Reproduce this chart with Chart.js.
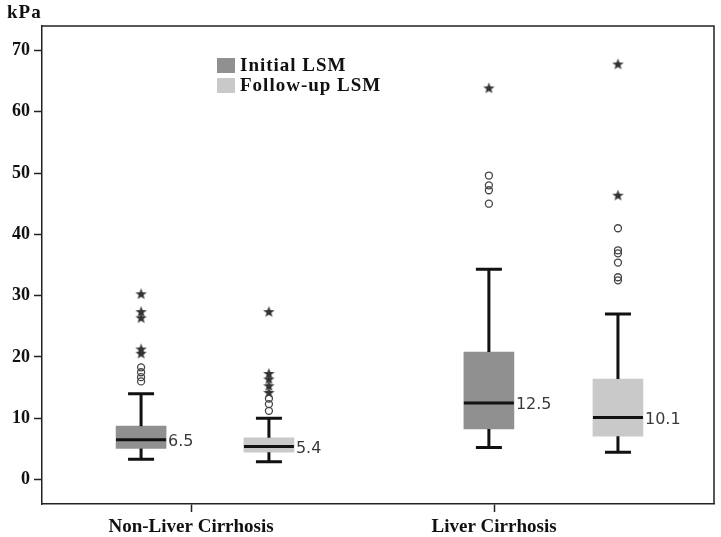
<!DOCTYPE html>
<html>
<head>
<meta charset="utf-8">
<script src="https://cdn.jsdelivr.net/npm/chart.js@4/dist/chart.umd.min.js"></script>
<style>
  html, body { margin: 0; padding: 0; background: #fff; }
  #wrap { width: 721px; height: 537px; position: relative; }
</style>
</head>
<body>
<div id="wrap"><canvas id="lsmChart"></canvas></div>
<script>
// categories and series
const groups = ['Non-Liver Cirrhosis', 'Liver Cirrhosis'];
const groupTicks = [1, 2];
const seriesNames = ['Initial LSM', 'Follow-up LSM'];
const yTicks = [0, 10, 20, 30, 40, 50, 60, 70];

// one entry per box: NLC initial, NLC follow-up, LC initial, LC follow-up
const boxPos = [0.835, 1.257, 1.983, 2.409];
const boxSeries = [0, 1, 0, 1];
const whiskerLow = [3.3, 2.9, 5.2, 4.45];
const q1 = [5.05, 4.45, 8.25, 7.05];
const median = [6.5, 5.4, 12.5, 10.1];
const q3 = [8.7, 6.8, 20.8, 16.4];
const whiskerHigh = [14.0, 10.0, 34.3, 27.0];
const medianLabels = ['6.5', '5.4', '12.5', '10.1'];
const circleOutliers = [
  [16.0, 16.7, 17.5, 18.3],
  [11.2, 12.3, 13.2],
  [45.0, 47.2, 48.0, 49.6],
  [32.5, 33.0, 35.4, 36.9, 37.4, 41.0]
];
const starOutliers = [
  [20.6, 21.3, 26.4, 27.4, 30.3],
  [14.2, 15.3, 16.4, 17.3, 27.4],
  [63.9],
  [46.4, 67.8]
];

const seriesColors = ['#909090', '#c9c9c9'];
const serif = '"Liberation Serif", "DejaVu Serif", serif';
const BOX_W = 50, CAP_W = 26;

const circlePts = [], starPts = [];
boxPos.forEach((p, i) => {
  circleOutliers[i].forEach(v => circlePts.push({ x: p, y: v }));
  starOutliers[i].forEach(v => starPts.push({ x: p, y: v }));
});

// small filled 5-point star like the SPSS extreme marker
function makeStar() {
  const c = document.createElement('canvas');
  c.width = 13; c.height = 13;
  const g = c.getContext('2d');
  g.fillStyle = '#333';
  g.beginPath();
  for (let k = 0; k < 10; k++) {
    const r = k % 2 ? 2.5 : 6;
    const a = -Math.PI / 2 + k * Math.PI / 5;
    g.lineTo(6.5 + r * Math.cos(a), 7 + r * Math.sin(a));
  }
  g.closePath();
  g.fill();
  return c;
}

const boxParts = {
  id: 'boxParts',
  afterDatasetsDraw(chart) {
    const { ctx, scales: { x, y } } = chart;
    ctx.save();
    ctx.strokeStyle = '#111';
    ctx.lineWidth = 3;
    boxPos.forEach((p, i) => {
      const cx = x.getPixelForValue(p);
      ctx.beginPath();
      ctx.moveTo(cx, y.getPixelForValue(whiskerHigh[i]));
      ctx.lineTo(cx, y.getPixelForValue(q3[i]));
      ctx.moveTo(cx, y.getPixelForValue(q1[i]));
      ctx.lineTo(cx, y.getPixelForValue(whiskerLow[i]));
      ctx.moveTo(cx - CAP_W / 2, y.getPixelForValue(whiskerHigh[i]));
      ctx.lineTo(cx + CAP_W / 2, y.getPixelForValue(whiskerHigh[i]));
      ctx.moveTo(cx - CAP_W / 2, y.getPixelForValue(whiskerLow[i]));
      ctx.lineTo(cx + CAP_W / 2, y.getPixelForValue(whiskerLow[i]));
      ctx.moveTo(cx - BOX_W / 2, y.getPixelForValue(median[i]));
      ctx.lineTo(cx + BOX_W / 2, y.getPixelForValue(median[i]));
      ctx.stroke();
      ctx.fillStyle = '#3a3a3a';
      ctx.font = '16px "DejaVu Sans", sans-serif';
      ctx.textBaseline = 'middle';
      ctx.textAlign = 'left';
      ctx.fillText(medianLabels[i], cx + BOX_W / 2 + 2, y.getPixelForValue(median[i]) + 2);
    });
    ctx.restore();
  },
  afterDraw(chart) {
    const { ctx, chartArea: a } = chart;
    ctx.save();
    // frame top and right
    ctx.strokeStyle = '#222';
    ctx.lineWidth = 1.5;
    ctx.beginPath();
    ctx.moveTo(a.left, a.top);
    ctx.lineTo(a.right, a.top);
    ctx.lineTo(a.right, a.bottom);
    ctx.stroke();
    // unit label
    ctx.fillStyle = '#111';
    ctx.font = 'bold 19px ' + serif;
    ctx.letterSpacing = '1px';
    ctx.textBaseline = 'middle';
    ctx.textAlign = 'left';
    ctx.fillText('kPa', 7, 13);
    // legend
    seriesNames.forEach((name, i) => {
      const top = 58 + i * 20;
      ctx.fillStyle = seriesColors[i];
      ctx.fillRect(217, top, 18, 15);
      ctx.fillStyle = '#111';
      ctx.fillText(name, 240, top + 8);
    });
    ctx.restore();
  }
};

new Chart(document.getElementById('lsmChart'), {
  type: 'bar',
  data: {
    datasets: [
      {
        type: 'bar',
        data: boxPos.map((p, i) => ({ x: p, y: [q1[i], q3[i]] })),
        backgroundColor: boxSeries.map(s => seriesColors[s]),
        borderWidth: 0,
        barThickness: BOX_W,
        grouped: false,
        order: 2
      },
      {
        type: 'scatter',
        data: circlePts,
        pointStyle: 'circle',
        pointRadius: 3.5,
        borderColor: '#444',
        borderWidth: 1.3,
        backgroundColor: 'rgba(255,255,255,0)',
        order: 1
      },
      {
        type: 'scatter',
        data: starPts,
        pointStyle: makeStar(),
        pointRadius: 6,
        order: 1
      }
    ]
  },
  options: {
    responsive: true,
    maintainAspectRatio: false,
    animation: false,
    layout: { autoPadding: false, padding: { top: 26, right: 7, left: 0, bottom: 0 } },
    plugins: { legend: { display: false }, tooltip: { enabled: false } },
    scales: {
      x: {
        type: 'linear',
        offset: false,
        min: 0.508,
        max: 2.726,
        afterBuildTicks(scale) { scale.ticks = groupTicks.map(v => ({ value: v })); },
        afterFit(scale) { scale.height = 33; },
        ticks: {
          autoSkip: false,
          maxRotation: 0,
          padding: 4,
          color: '#111',
          font: { family: serif, size: 19, weight: 'bold' },
          callback: (v) => groups[groupTicks.indexOf(v)] || ''
        },
        grid: { offset: false, drawOnChartArea: false, drawTicks: true, tickLength: 8, tickColor: '#222', tickWidth: 1.5 },
        border: { color: '#222', width: 1.5 }
      },
      y: {
        type: 'linear',
        min: -4,
        max: 74,
        afterBuildTicks(scale) { scale.ticks = yTicks.map(v => ({ value: v })); },
        afterFit(scale) { scale.width = 42; },
        ticks: {
          padding: 4,
          color: '#111',
          font: { family: serif, size: 18, weight: 'bold' }
        },
        grid: { drawOnChartArea: false, drawTicks: true, tickLength: 8, tickColor: '#222', tickWidth: 1.5 },
        border: { color: '#222', width: 1.5 }
      }
    }
  },
  plugins: [boxParts]
});
</script>
</body>
</html>
